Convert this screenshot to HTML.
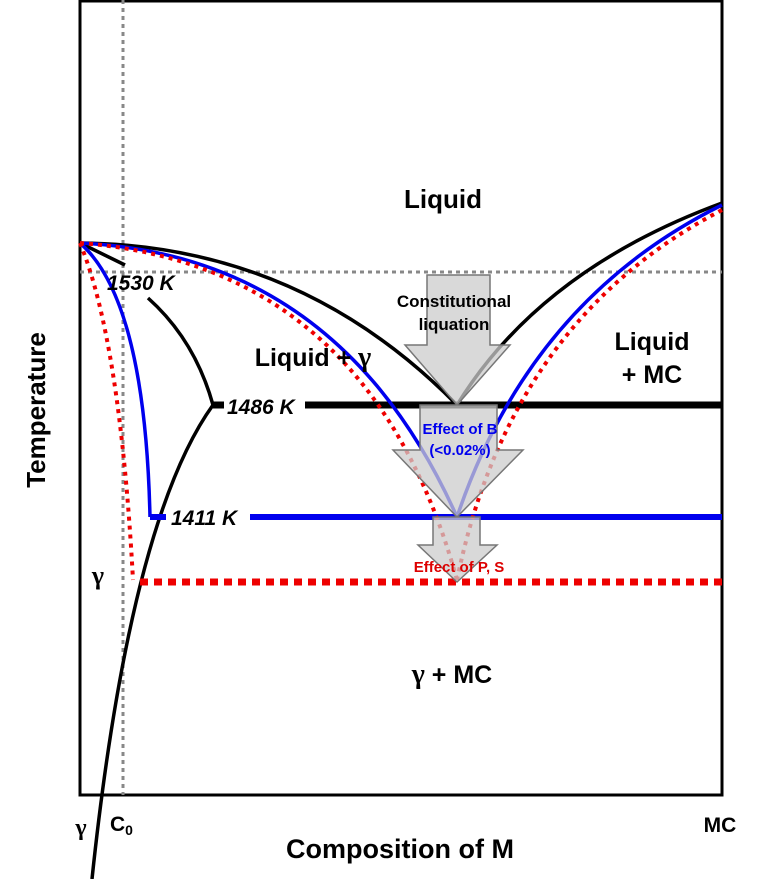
<!DOCTYPE html>
<html><head><meta charset="utf-8"><style>
body{margin:0;background:#fff}
svg{display:block;font-family:"Liberation Sans",Arial,sans-serif;font-weight:bold}
.g{font-family:"Liberation Serif",serif}
</style></head><body>
<svg width="761" height="879" viewBox="0 0 761 879">
<rect x="80" y="1" width="642" height="794" fill="none" stroke="#000" stroke-width="3"/>
<line x1="123" y1="0" x2="123" y2="795" stroke="#888" stroke-width="3" stroke-dasharray="4,4"/>
<line x1="80" y1="272" x2="722" y2="272" stroke="#888" stroke-width="3" stroke-dasharray="4,4"/>
<g fill="none" stroke="#000" stroke-width="3.5">
<path d="M80,243 Q300,245 457,405"/>
<path d="M722,203 Q540,270 457,405"/>
<path d="M80,243 L125,265"/>
<path d="M148,298 Q195,340 213,405"/>
<path d="M213,405 Q130,520 92,879"/>
</g>
<line x1="213" y1="405" x2="224" y2="405" stroke="#000" stroke-width="7"/>
<line x1="305" y1="405" x2="722" y2="405" stroke="#000" stroke-width="7"/>
<g fill="none" stroke="#0000ee" stroke-width="3.5">
<path d="M80,243 Q340,255 457,517"/>
<path d="M722,205 Q530,300 457,517"/>
<path d="M80,243 Q145,300 150,517"/>
</g>
<line x1="150" y1="517" x2="166" y2="517" stroke="#0000ee" stroke-width="6"/>
<line x1="250" y1="517" x2="722" y2="517" stroke="#0000ee" stroke-width="6"/>
<g fill="none" stroke="#ee0000" stroke-width="4" stroke-dasharray="4,5">
<path d="M80,243 Q370,265 457,580"/>
<path d="M722,210 Q510,320 457,580"/>
<path d="M80,243 Q120,340 133,580"/>
</g>
<line x1="140" y1="582" x2="722" y2="582" stroke="#ee0000" stroke-width="7" stroke-dasharray="8,6"/>
<g fill="#ccc" fill-opacity="0.75" stroke="#777" stroke-width="1.5">
<path d="M427,275 H490 V345 H510 L457,405 L405,345 H427 Z"/>
<path d="M420,405 H497 V450 H523 L457,517 L393,450 H420 Z"/>
<path d="M433,517 H480 V545 H497 L457,582 L418,545 H433 Z"/>
</g>
<text x="443" y="208" font-size="26" text-anchor="middle">Liquid</text>
<text x="454" y="307" font-size="17" text-anchor="middle">Constitutional</text>
<text x="454" y="330" font-size="17" text-anchor="middle">liquation</text>
<text x="313" y="366" font-size="25" text-anchor="middle">Liquid + <tspan class="g" font-size="28">γ</tspan></text>
<text x="652" y="350" font-size="25" text-anchor="middle">Liquid</text>
<text x="652" y="383" font-size="25" text-anchor="middle">+ MC</text>
<text x="460" y="434" font-size="15" fill="#0000ee" text-anchor="middle">Effect of B</text>
<text x="460" y="455" font-size="15" fill="#0000ee" text-anchor="middle">(&lt;0.02%)</text>
<text x="459" y="572" font-size="15" fill="#dd0000" text-anchor="middle">Effect of P, S</text>
<text x="452" y="683" font-size="25" text-anchor="middle"><tspan class="g" font-size="28">γ</tspan> + MC</text>
<text x="98" y="584" font-size="26" text-anchor="middle" class="g">γ</text>
<text x="107" y="290" font-size="21" font-style="italic">1530 K</text>
<text x="227" y="414" font-size="21" font-style="italic">1486 K</text>
<text x="171" y="525" font-size="21" font-style="italic">1411 K</text>
<text x="45" y="410" font-size="26" text-anchor="middle" transform="rotate(-90 45 410)">Temperature</text>
<text x="400" y="858" font-size="27" text-anchor="middle">Composition of M</text>
<text x="81" y="835" font-size="24" text-anchor="middle" class="g">γ</text>
<text x="110" y="831" font-size="21">C<tspan font-size="14" dy="4">0</tspan></text>
<text x="720" y="832" font-size="21" text-anchor="middle">MC</text>
</svg>
</body></html>
